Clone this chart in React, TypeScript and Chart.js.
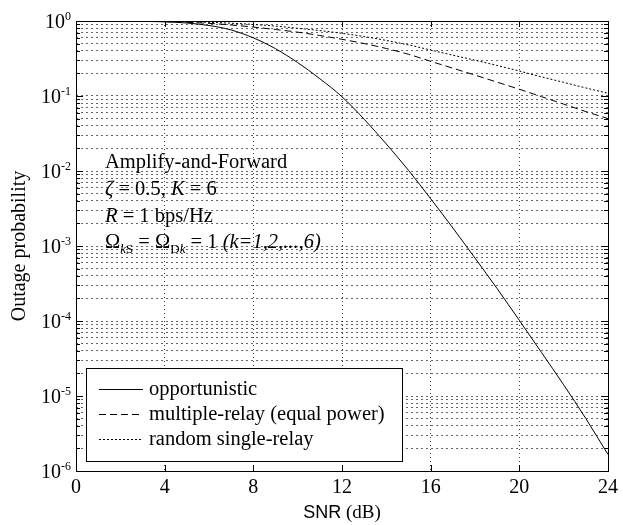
import React, { useEffect, useRef } from 'react';
import { Chart, registerables } from 'chart.js';

Chart.register(...registerables);

// ---------- data ----------
const snrDb = [0, 1, 2, 3, 4, 5, 6, 7, 8, 9, 10, 11, 12, 13, 14, 15, 16, 17, 18, 19, 20, 21, 22, 23, 24];
const opportunistic = [
  1.0, 0.9995, 0.998, 0.991, 0.975, 0.94, 0.871, 0.759, 0.596, 0.427, 0.279, 0.17, 0.0977,
  0.049, 0.0229, 0.0102, 0.00427, 0.00174, 6.9e-4, 2.7e-4, 1.02e-4, 3.8e-5, 1.41e-5, 5.0e-6, 1.66e-6,
];
const multipleRelay = [
  1.0, 0.9995, 0.998, 0.993, 0.98, 0.96, 0.93, 0.885, 0.83, 0.77, 0.71, 0.64, 0.57,
  0.5, 0.43, 0.36, 0.29, 0.235, 0.19, 0.153, 0.123, 0.098, 0.078, 0.062, 0.05,
];
const randomSingleRelay = [
  1.0, 0.9998, 0.999, 0.996, 0.99, 0.98, 0.96, 0.935, 0.9, 0.855, 0.8, 0.745, 0.685,
  0.62, 0.55, 0.48, 0.41, 0.35, 0.3, 0.255, 0.215, 0.18, 0.152, 0.128, 0.109,
];
const seriesLabels = ['opportunistic', 'multiple-relay (equal power)', 'random single-relay'];
const xTickStep = 4;
const xMin = 0;
const xMax = 24;
const yDecadeExponents = [0, -1, -2, -3, -4, -5, -6];
const yMinorMultipliers = [1, 2, 3, 4, 5, 6, 7, 8, 9];
const yAxisTitle = 'Outage probability';
const xAxisTitleMain = 'SNR';
const xAxisTitleUnit = '(dB)';

const SERIF = '"Liberation Serif", "DejaVu Serif", serif';
const SANS = '"Liberation Sans", Arial, sans-serif';

type Run = { t: string; italic?: boolean; sub?: boolean; sup?: boolean; family?: string; size?: number };

function drawRuns(ctx: CanvasRenderingContext2D, runs: Run[], x: number, y: number, baseSize: number) {
  let cx = x;
  for (const r of runs) {
    const size = r.size ?? (r.sub || r.sup ? Math.round(baseSize * 0.62) : baseSize);
    ctx.font = `${r.italic ? 'italic ' : ''}${size}px ${r.family ?? SERIF}`;
    const dy = r.sub ? baseSize * 0.22 : r.sup ? -baseSize * 0.42 : 0;
    ctx.fillText(r.t, cx, y + dy);
    cx += ctx.measureText(r.t).width;
  }
  return cx - x;
}

function measureRuns(ctx: CanvasRenderingContext2D, runs: Run[], baseSize: number) {
  let w = 0;
  for (const r of runs) {
    const size = r.size ?? (r.sub || r.sup ? Math.round(baseSize * 0.62) : baseSize);
    ctx.font = `${r.italic ? 'italic ' : ''}${size}px ${r.family ?? SERIF}`;
    w += ctx.measureText(r.t).width;
  }
  return w;
}

const annotationLines: Run[][] = [
  [{ t: 'Amplify-and-Forward' }],
  [{ t: 'ζ', italic: true }, { t: ' = 0.5, ' }, { t: 'K', italic: true }, { t: ' = 6' }],
  [{ t: 'R', italic: true }, { t: ' = 1 bps/Hz' }],
  [
    { t: 'Ω' }, { t: 'k', italic: true, sub: true }, { t: 'S', sub: true },
    { t: ' = Ω' }, { t: 'D', sub: true }, { t: 'k', italic: true, sub: true },
    { t: ' = 1 ' }, { t: '(k=1,2,...,6)', italic: true },
  ],
];

const dashStyles: number[][] = [[], [7, 4], [2, 2]];

const overlayPlugin = {
  id: 'overlay',
  afterDraw(chart: any) {
    const { ctx, chartArea } = chart;
    const { left, right, top, bottom } = chartArea;
    const xs = chart.scales.x;
    const ys = chart.scales.y;
    ctx.save();

    // legend box (white, occludes grid)
    const lgL = 86.5, lgT = 368.5, lgR = 402.5, lgB = 461.5;
    ctx.fillStyle = '#fff';
    ctx.fillRect(lgL, lgT, lgR - lgL, lgB - lgT);
    ctx.strokeStyle = '#000';
    ctx.lineWidth = 1;
    ctx.setLineDash([]);
    ctx.strokeRect(lgL, lgT, lgR - lgL, lgB - lgT);
    const rowY = [389.5, 414.5, 439.5];
    ctx.textBaseline = 'middle';
    ctx.textAlign = 'left';
    seriesLabels.forEach((lab, i) => {
      ctx.setLineDash(dashStyles[i]);
      ctx.beginPath();
      ctx.moveTo(99, rowY[i]);
      ctx.lineTo(143, rowY[i]);
      ctx.stroke();
      ctx.setLineDash([]);
      ctx.fillStyle = '#000';
      ctx.font = `20.5px ${SERIF}`;
      ctx.fillText(lab, 149, rowY[i]);
    });

    // ticks (inward)
    ctx.setLineDash([]);
    ctx.strokeStyle = '#000';
    ctx.lineWidth = 1;
    ctx.beginPath();
    for (let v = xMin; v <= xMax; v += xTickStep) {
      const px = Math.round(xs.getPixelForValue(v)) + 0.5;
      ctx.moveTo(px, bottom);
      ctx.lineTo(px, bottom - 6);
      ctx.moveTo(px, top);
      ctx.lineTo(px, top + 6);
    }
    for (const e of yDecadeExponents) {
      for (const m of yMinorMultipliers) {
        const v = m * Math.pow(10, e);
        if (v > 1.0000001 || v < 1e-6 * 0.999) continue;
        const py = Math.round(ys.getPixelForValue(v)) + 0.5;
        const len = m === 1 ? 7 : 4;
        ctx.moveTo(left, py);
        ctx.lineTo(left + len, py);
        ctx.moveTo(right, py);
        ctx.lineTo(right - len, py);
      }
    }
    ctx.stroke();

    // frame
    ctx.strokeRect(Math.round(left) + 0.5, Math.round(top) + 0.5, Math.round(right - left), Math.round(bottom - top));

    // y tick labels 10^n
    ctx.fillStyle = '#000';
    ctx.textBaseline = 'alphabetic';
    ctx.textAlign = 'left';
    for (const e of yDecadeExponents) {
      const py = ys.getPixelForValue(Math.pow(10, e));
      const runs: Run[] = [{ t: '10' }, { t: String(e), sup: true, size: 12 }];
      const w = measureRuns(ctx, runs, 20);
      drawRuns(ctx, runs, left - 5 - w, py + 7, 20);
    }

    // y title
    ctx.save();
    ctx.translate(20, (top + bottom) / 2);
    ctx.rotate(-Math.PI / 2);
    ctx.textAlign = 'center';
    ctx.textBaseline = 'middle';
    ctx.font = `20px ${SERIF}`;
    ctx.fillText(yAxisTitle, 0, 0);
    ctx.restore();

    // x title
    ctx.textAlign = 'left';
    ctx.textBaseline = 'alphabetic';
    const xRuns: Run[] = [
      { t: xAxisTitleMain, family: SANS, size: 18 },
      { t: ' ' + xAxisTitleUnit, size: 19 },
    ];
    const xw = measureRuns(ctx, xRuns, 19);
    drawRuns(ctx, xRuns, (left + right) / 2 - xw / 2, 518, 19);

    // annotation
    const baseY = [168, 195, 222, 248];
    annotationLines.forEach((runs, i) => {
      drawRuns(ctx, runs, 105, baseY[i], 20.5);
    });

    ctx.restore();
  },
};

export default function App() {
  const canvasRef = useRef<HTMLCanvasElement | null>(null);

  useEffect(() => {
    const canvas = canvasRef.current;
    if (!canvas) return;
    const yGridValues: number[] = [];
    for (const e of yDecadeExponents) {
      for (const m of yMinorMultipliers) {
        const v = m * Math.pow(10, e);
        if (v <= 1.0000001 && v >= 1e-6 * 0.999) yGridValues.push(v);
      }
    }
    const mk = (label: string, data: number[], dash: number[]) => ({
      label,
      data: snrDb.map((x, i) => ({ x, y: data[i] })),
      borderColor: '#000',
      borderWidth: 1,
      borderDash: dash,
      pointRadius: 0,
      fill: false,
      cubicInterpolationMode: 'monotone' as const,
    });
    const chart = new Chart(canvas, {
      type: 'line',
      data: {
        datasets: [
          mk(seriesLabels[0], opportunistic, dashStyles[0]),
          mk(seriesLabels[1], multipleRelay, dashStyles[1]),
          mk(seriesLabels[2], randomSingleRelay, dashStyles[2]),
        ],
      },
      options: {
        responsive: false,
        animation: false,
        devicePixelRatio: 1,
        layout: { padding: { top: 21, right: 10, left: 0, bottom: 0 } },
        plugins: { legend: { display: false }, tooltip: { enabled: false } },
        scales: {
          x: {
            type: 'linear',
            min: xMin,
            max: xMax,
            ticks: {
              stepSize: xTickStep,
              color: '#000',
              font: { family: SERIF, size: 20 },
              padding: 5,
              maxRotation: 0,
            },
            grid: { color: 'rgba(0,0,0,0.75)', lineWidth: 1, drawTicks: false },
            border: { display: false, dash: [1, 3] },
            afterFit: (s: any) => {
              s.height = 54;
            },
          },
          y: {
            type: 'logarithmic',
            min: 1e-6,
            max: 1,
            afterBuildTicks: (s: any) => {
              s.ticks = yGridValues.map((v) => ({ value: v }));
            },
            ticks: { display: false },
            grid: { color: 'rgba(0,0,0,0.6)', lineWidth: 1, drawTicks: false },
            border: { display: false, dash: [2, 3] },
            afterFit: (s: any) => {
              s.width = 76;
            },
          },
        },
      },
      plugins: [overlayPlugin],
    });
    return () => chart.destroy();
  }, []);

  return (
    <div style={{ position: 'fixed', left: 0, top: 0, width: 623, height: 525, background: '#fff' }}>
      <canvas ref={canvasRef} width={623} height={525} style={{ display: 'block' }} />
    </div>
  );
}
